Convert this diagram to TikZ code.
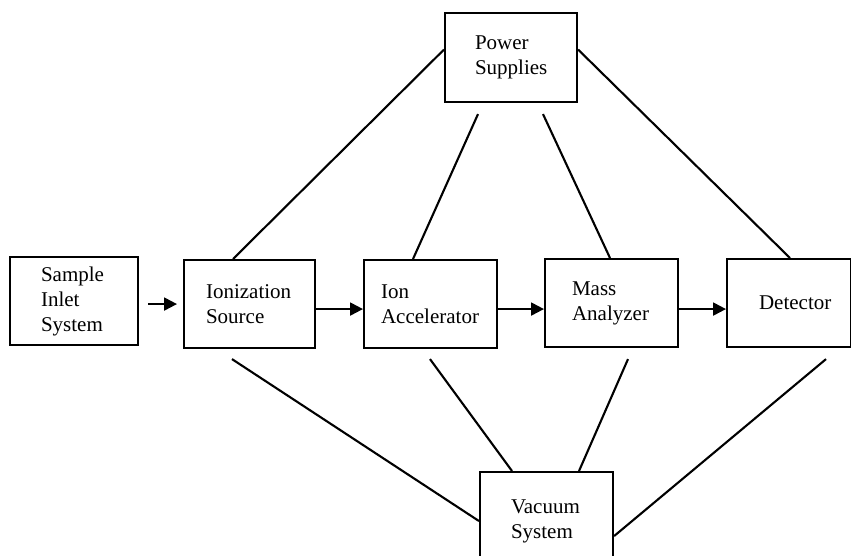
\documentclass[tikz,border=0pt]{standalone}
\usepackage{fontspec}
\setmainfont{Liberation Serif}
\usetikzlibrary{arrows.meta}

\begin{document}
\begin{tikzpicture}[x=1pt,y=-1pt,
      unit/.style={draw,line width=2.1pt,anchor=north west,align=left,
        minimum height=88pt,inner ysep=4pt,font=\fontsize{21}{25}\selectfont},
      flow/.style={-{Triangle[length=13pt,width=13pt]},line width=2.1pt},
      feed/.style={line width=2.1pt}
    ]
      \useasboundingbox (0,0) rectangle (851,555);
      \clip (0,0) rectangle (851,555);
      \node[unit,text width=66pt,inner xsep=31pt] (sample) at (9,256) {Sample\\Inlet\\System};
      \node[unit,text width=87pt,inner xsep=22pt] (ionization) at (183,259) {Ionization\\Source};
      \node[unit,text width=99pt,inner xsep=17pt] (accel) at (363,259) {Ion\\Accelerator};
      \node[unit,text width=79pt,inner xsep=27pt] (mass) at (544,258) {Mass\\Analyzer};
      \node[unit,text width=60pt,inner xsep=32pt] (detector) at (726,258) {Detector};
      \node[unit,text width=72pt,inner xsep=30pt,minimum height=89pt] (power) at (444,12) {Power\\Supplies};
      \node[unit,text width=71pt,inner xsep=31pt,minimum height=98pt] (vacuum) at (479,471) {Vacuum\\System};
      % ion path
      \draw[flow,shorten <=9pt,shorten >=6pt] (sample.east |- ionization.west) -- (ionization.west);
      \draw[flow] ([yshift=-5pt]ionization.east) -- ([yshift=-5pt]accel.west);
      \draw[flow] ([yshift=-5pt]accel.east) -- ([yshift=-6pt]mass.west);
      \draw[flow] ([yshift=-6pt]mass.east) -- ([yshift=-6pt]detector.west);
      % power supplies
      \draw[feed] ([yshift=8pt]power.west) -- ([xshift=50pt]ionization.north west);
      \draw[feed] ([xshift=34pt,yshift=-11pt]power.south west) -- ([xshift=50pt]accel.north west);
      \draw[feed] ([xshift=99pt,yshift=-11pt]power.south west) -- ([xshift=66pt]mass.north west);
      \draw[feed] ([yshift=8pt]power.east) -- ([xshift=64pt]detector.north west);
      % vacuum system
      \draw[feed] ([xshift=49pt,yshift=-10pt]ionization.south west) -- (vacuum.west);
      \draw[feed] ([xshift=67pt,yshift=-10pt]accel.south west) -- ([xshift=33pt]vacuum.north west);
      \draw[feed] ([xshift=84pt,yshift=-11pt]mass.south west) -- ([xshift=100pt]vacuum.north west);
      \draw[feed] ([xshift=100pt,yshift=-11pt]detector.south west) -- ([yshift=-15pt]vacuum.east);
    \end{tikzpicture}
\end{document}
